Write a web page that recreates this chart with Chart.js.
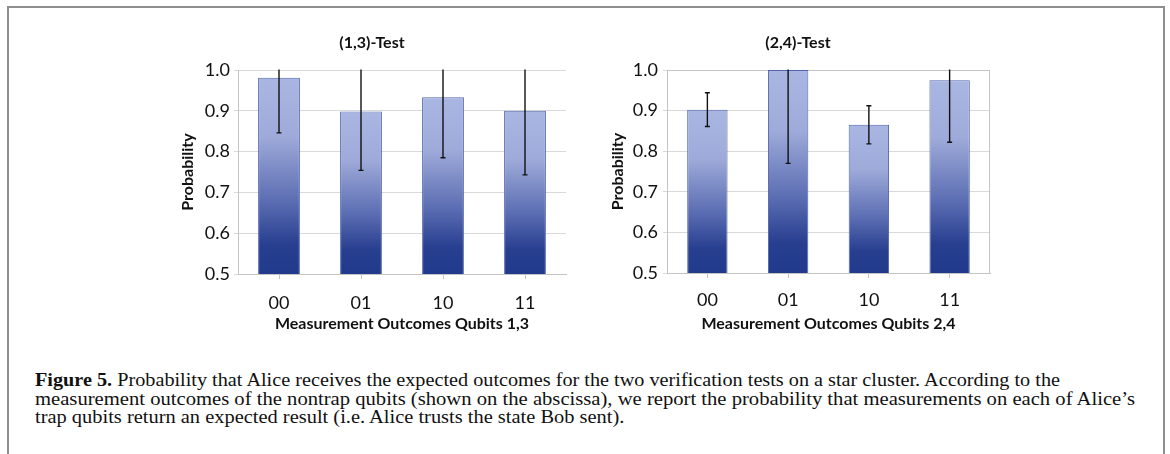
<!DOCTYPE html>
<html>
<head>
<meta charset="utf-8">
<script src="https://cdn.jsdelivr.net/npm/chart.js@4.4.1/dist/chart.umd.min.js"></script>
<style>
  html, body { margin: 0; padding: 0; background: #fff; }
  body { width: 1170px; height: 454px; position: relative; overflow: hidden; }
  #frame {
    position: absolute; left: 7px; top: 6px; width: 1154px; height: 460px;
    border: 2px solid #8e8e8e; border-bottom: none;
  }
  .box { position: absolute; top: 26px; height: 320px; }
  #box1 { left: 150px; width: 446px; }
  #box2 { left: 579px; width: 438px; }
  #caption {
    position: absolute; left: 35px; top: 371px;
    font-family: "Liberation Serif", "DejaVu Serif", serif;
    font-size: 18px; line-height: 18.6px; color: #111;
  }
  #caption div { white-space: nowrap; transform-origin: 0 0; }
</style>
</head>
<body>
<div id="frame"></div>
<div class="box" id="box1"><canvas id="chart13"></canvas></div>
<div class="box" id="box2"><canvas id="chart24"></canvas></div>
<div id="caption">
  <div id="cap1"><b>Figure 5.</b> Probability that Alice receives the expected outcomes for the two verification tests on a star cluster. According to the</div>
  <div id="cap2">measurement outcomes of the nontrap qubits (shown on the abscissa), we report the probability that measurements on each of Alice’s</div>
  <div id="cap3">trap qubits return an expected result (i.e. Alice trusts the state Bob sent).</div>
</div>

<script>
// outcome labels on the abscissa
const outcomes = ["00", "01", "10", "11"];

// (1,3)-test
const prob13 = [0.981, 0.898, 0.933, 0.900];
const low13 = [0.846, 0.754, 0.785, 0.743];
const high13 = [1.116, 1.042, 1.081, 1.057];

// (2,4)-test
const prob24 = [0.902, 1.0, 0.865, 0.975];
const low24 = [0.861, 0.770, 0.818, 0.822];
const high24 = [0.944, 1.230, 0.912, 1.128];

const yTicks = [0.5, 0.6, 0.7, 0.8, 0.9, 1.0];

Chart.defaults.font.family = "Lato, 'Open Sans', sans-serif";
Chart.defaults.color = "#222";

// vertical gradient for each bar, light at top, dark navy at the base
function barGradient(ctx) {
    const chart = ctx.chart;
    const area = chart.chartArea;
    if (!area || ctx.raw == null) return "#7d8bc7";
    const y = chart.scales.y;
    const top = y.getPixelForValue(ctx.raw);
    const g = chart.ctx.createLinearGradient(0, top, 0, area.bottom);
    g.addColorStop(0, "#aab6e2");
    g.addColorStop(0.3, "#9eaad9");
    g.addColorStop(0.62, "#5d6fb4");
    g.addColorStop(0.85, "#283f90");
    g.addColorStop(1, "#213a8b");
    return g;
}

// error bars, clipped to the plot area
const errorBars = {
    id: "errorBars",
    afterDatasetsDraw(chart, args, opts) {
        const { ctx, chartArea } = chart;
        const meta = chart.getDatasetMeta(0);
        const y = chart.scales.y;
        ctx.save();
        ctx.beginPath();
        ctx.rect(chartArea.left, chartArea.top - 0.5, chartArea.right - chartArea.left, chartArea.bottom - chartArea.top + 1);
        ctx.clip();
        ctx.strokeStyle = "#111";
        ctx.lineWidth = 1.4;
        meta.data.forEach((bar, i) => {
            const x = bar.x;
            const yl = y.getPixelForValue(opts.low[i]);
            const yh = y.getPixelForValue(opts.high[i]);
            ctx.beginPath();
            ctx.moveTo(x, yh);
            ctx.lineTo(x, yl);
            ctx.moveTo(x - 2.5, yl);
            ctx.lineTo(x + 2.5, yl);
            ctx.moveTo(x - 2.5, yh);
            ctx.lineTo(x + 2.5, yh);
            ctx.stroke();
        });
        ctx.restore();
    }
};

// full border round the plot area (right-hand chart only)
const plotBorder = {
    id: "plotBorder",
    beforeDatasetsDraw(chart, args, opts) {
        if (!opts.show) return;
        const { ctx, chartArea } = chart;
        ctx.save();
        ctx.strokeStyle = "#c4c4c4";
        ctx.lineWidth = 1;
        ctx.strokeRect(chartArea.left + 0.5, chartArea.top + 0.5,
            chartArea.right - chartArea.left - 1, chartArea.bottom - chartArea.top);
        ctx.restore();
    }
};

function makeChart(id, title, xTitle, values, low, high, opt) {
    return new Chart(document.getElementById(id), {
        type: "bar",
        data: {
            labels: outcomes,
            datasets: [{
                data: values,
                backgroundColor: barGradient,
                borderColor: "#5166ad",
                borderWidth: 1,
                barPercentage: opt.barPct,
                categoryPercentage: 1
            }]
        },
        options: {
            responsive: true,
            maintainAspectRatio: false,
            animation: false,
            layout: { padding: { right: opt.padRight, left: opt.padLeft, top: 0, bottom: 0 } },
            plugins: {
                legend: { display: false },
                tooltip: { enabled: false },
                title: {
                    display: true,
                    text: title,
                    color: "#111",
                    font: { size: 16, weight: "bold" },
                    padding: { top: 7.4, bottom: 17.4 }
                },
                errorBars: { low: low, high: high },
                plotBorder: { show: opt.border }
            },
            scales: {
                x: {
                    afterFit(s) { s.height = opt.xHeight; },
                    grid: {
                        offset: false,
                        drawOnChartArea: false,
                        tickLength: 5,
                        color: "#c4c4c4"
                    },
                    border: { color: "#c4c4c4" },
                    ticks: { padding: opt.xPad, color: "#111", font: { size: 18 } },
                    title: {
                        display: true,
                        text: xTitle,
                        color: "#111",
                        font: { size: 16, weight: "bold" },
                        padding: { top: 0, bottom: 12.4 }
                    }
                },
                y: {
                    min: 0.5,
                    max: 1.0,
                    afterFit(s) { s.width = opt.yWidth; },
                    afterBuildTicks(s) { s.ticks = yTicks.map(v => ({ value: v })); },
                    grid: { color: "#d9d9d9", tickLength: 4 },
                    border: { color: "#c4c4c4" },
                    ticks: {
                        padding: opt.yPad,
                        color: "#111",
                        font: { size: 18 },
                        callback: v => v.toFixed(1)
                    },
                    title: {
                        display: true,
                        text: "Probability",
                        color: "#111",
                        font: { size: 16, weight: "bold" },
                        padding: { top: opt.yTitlePad, bottom: 0 }
                    }
                }
            }
        },
        plugins: [errorBars, plotBorder]
    });
}

makeChart("chart13", "(1,3)-Test", "Measurement Outcomes Qubits 1,3", prob13, low13, high13,
    { barPct: 0.51, padLeft: 28, padRight: 30, yWidth: 60, xHeight: 72, xPad: 13, yPad: 4, yTitlePad: 0.4, border: false });
makeChart("chart24", "(2,4)-Test", "Measurement Outcomes Qubits 2,4", prob24, low24, high24,
    { barPct: 0.5, padLeft: 27, padRight: 27, yWidth: 61, xHeight: 73, xPad: 11, yPad: 5, yTitlePad: 2.4, border: true });

// squeeze the caption lines to the widths of the original typesetting
const capTargets = { cap1: 1025, cap2: 1100 };
let sum = 0, n = 0;
Object.keys(capTargets).forEach(id => {
    const el = document.getElementById(id);
    el.style.display = "inline-block";
    const k = capTargets[id] / el.getBoundingClientRect().width;
    el.style.display = "block";
    el.style.transform = "scaleX(" + k + ")";
    sum += k; n++;
});
document.getElementById("cap3").style.transform = "scaleX(" + (sum / n) + ")";
</script>
</body>
</html>
